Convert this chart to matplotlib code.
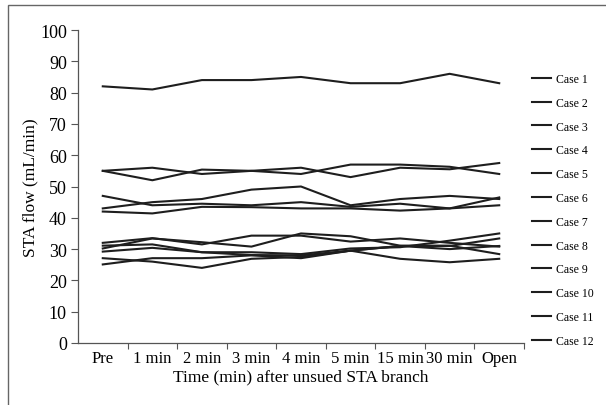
import numpy as np
import matplotlib as mpl
import matplotlib.pyplot as plt
from matplotlib.patches import Rectangle

mpl.rc('font', family='Liberation Serif')

times = ['Pre', '1 min', '2 min', '3 min', '4 min', '5 min', '15 min', '30 min', 'Open']
cases = ['Case 1', 'Case 2', 'Case 3', 'Case 4', 'Case 5', 'Case 6',
         'Case 7', 'Case 8', 'Case 9', 'Case 10', 'Case 11', 'Case 12']

case1 = [82, 81, 84, 84, 85, 83, 83, 86, 83]
case2 = [55, 56, 54, 55, 56, 53, 56, 55.5, 57.5]
case3 = [55, 52, 55.4, 55, 54, 57, 57, 56.3, 54]
case4 = [47, 44, 44.5, 44, 45, 43.5, 44.5, 43, 46.5]
case5 = [43, 45, 46, 49, 50, 44, 46, 47, 46]
case6 = [42, 41.4, 43.5, 43.4, 43, 43, 42.3, 43, 44]
case7 = [32, 33.5, 31.5, 34.3, 34.3, 32.4, 33.4, 32, 30.8]
case8 = [30.2, 33.4, 32.2, 30.8, 35, 34.1, 31.1, 31.1, 28.4]
case9 = [31.1, 31.5, 29, 29, 28.4, 30.2, 30.6, 32.7, 35]
case10 = [29.2, 30.4, 29, 28.1, 28, 29.5, 31, 31, 33.4]
case11 = [27.1, 26, 24, 26.9, 27.5, 29.5, 26.9, 25.8, 26.9]
case12 = [25.1, 27.1, 27.1, 28, 27.1, 29.5, 31, 30, 31]

series = [case1, case2, case3, case4, case5, case6,
          case7, case8, case9, case10, case11, case12]

fig = plt.figure(figsize=(6.06, 4.06), dpi=100)
ax = fig.add_axes([78 / 606, 1 - 344 / 406, 446 / 606, 313 / 406])

x = np.arange(len(times))
for vals, name in zip(series, cases):
    ax.plot(x, vals, color='#1e1e1e', linewidth=1.5, label=name)

ax.set_xlim(-0.5, len(times) - 0.5)
ax.set_ylim(0, 100)
ax.set_yticks(np.arange(0, 101, 10))

# ticks sit between categories, labels at the categories
ax.set_xticks(x + 0.5)
ax.set_xticklabels([])
ax.set_xticks(x, minor=True)
ax.set_xticklabels(times, minor=True)
ax.tick_params(axis='x', which='minor', length=0, labelsize=12, pad=5)
ax.tick_params(axis='x', which='major', length=4, width=0.8, color='#555555')
ax.tick_params(axis='y', length=5, width=0.8, color='#555555', labelsize=13, pad=3)

for s in ['top', 'right']:
    ax.spines[s].set_visible(False)
for s in ['left', 'bottom']:
    ax.spines[s].set_color('#555555')
    ax.spines[s].set_linewidth(0.9)

ax.set_ylabel('STA flow (mL/min)', fontsize=12.5, labelpad=1)
ax.set_xlabel('Time (min) after unsued STA branch', fontsize=12.5, labelpad=2)

ax.legend(loc='upper left', bbox_to_anchor=(1.0, 0.889), frameon=False,
          fontsize=8.5, handlelength=1.6, handletextpad=0.4, labelspacing=1.0,
          borderaxespad=0.3)

# outer frame of the figure panel
fig.add_artist(Rectangle((8 / 606, -0.1), 1.2, 1.1 - 6 / 406, transform=fig.transFigure,
                         fill=False, edgecolor='#666666', linewidth=1.0, clip_on=False))

plt.savefig('out.png', dpi=100)
